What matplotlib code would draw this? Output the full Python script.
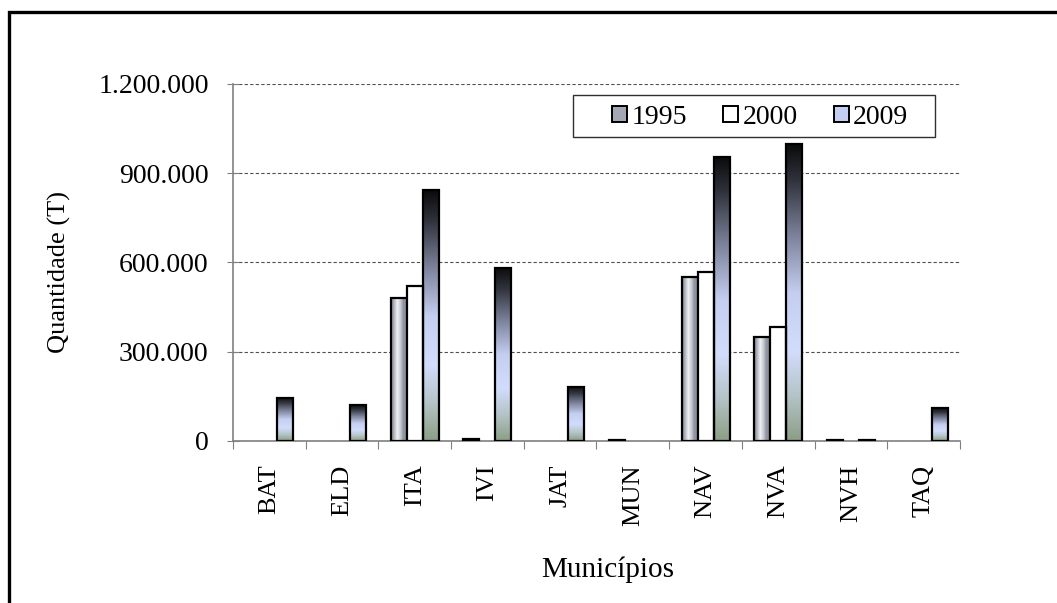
import numpy as np
import matplotlib.pyplot as plt
from matplotlib.colors import LinearSegmentedColormap
from matplotlib.patches import Rectangle, Patch
from matplotlib.ticker import FuncFormatter

plt.rcParams['font.family'] = ['Liberation Serif', 'DejaVu Serif']

municipios = ['BAT', 'ELD', 'ITA', 'IVI', 'JAT', 'MUN', 'NAV', 'NVA', 'NVH', 'TAQ']
anos = ['1995', '2000', '2009']
q1995 = [0, 0, 479000, 8000, 0, 4000, 551000, 348000, 3000, 0]
q2000 = [0, 0, 520000, 0, 0, 0, 568000, 382000, 0, 0]
q2009 = [146000, 121000, 843000, 583000, 183000, 0, 954000, 998000, 3000, 110000]

# gradient fills: 1995 striped across the bar, 2009 dark top to pale blue/green bottom
cmap95 = LinearSegmentedColormap.from_list('g95', ['#7c808e', '#b4b8c4', '#f2f2f2', '#c4c8d0', '#8a8e9a', '#a4a8b4'])
cmap09 = LinearSegmentedColormap.from_list('g09', [(0, '#8c9f86'), (0.15, '#b4c4c8'), (0.3, '#d2dcfc'),
                                                   (0.5, '#c4cef0'), (0.7, '#7a8098'), (0.88, '#30333c'),
                                                   (1, '#0c0c0c')])

fig = plt.figure(figsize=(10.57, 6.03), dpi=100)
ax = fig.add_axes([0.2204, 0.2687, 0.6878, 0.592])

x = np.arange(len(municipios))
w = 0.22


def fill_bars(bars, cmap, horizontal):
    for b in bars:
        h = b.get_height()
        if h <= 0:
            continue
        x0 = b.get_x()
        if horizontal:
            grad = np.linspace(0, 1, 64).reshape(1, -1)
        else:
            grad = np.linspace(0, 1, 128).reshape(-1, 1)
        im = ax.imshow(grad, cmap=cmap, extent=(x0, x0 + b.get_width(), 0, h),
                       origin='lower', aspect='auto', zorder=2, interpolation='bilinear')
        im.set_clip_path(b)


b95 = ax.bar(x - w, q1995, w, facecolor='none', edgecolor='black', linewidth=1.6, zorder=3)
b00 = ax.bar(x, q2000, w, facecolor='white', edgecolor='black', linewidth=1.6, zorder=3)
b09 = ax.bar(x + w, q2009, w, facecolor='none', edgecolor='black', linewidth=1.6, zorder=3)
fill_bars(b95, cmap95, True)
fill_bars(b09, cmap09, False)
for b in list(b95) + list(b00) + list(b09):
    if b.get_height() <= 0:
        b.set_visible(False)

ax.set_xlim(-0.5, len(municipios) - 0.5)
ax.set_ylim(0, 1200000)
ax.set_yticks([0, 300000, 600000, 900000, 1200000])
ax.yaxis.set_major_formatter(FuncFormatter(lambda v, p: f'{int(v):,}'.replace(',', '.')))
ax.yaxis.grid(True, linestyle=(0, (3, 2)), color='#505050', linewidth=0.8)
ax.set_axisbelow(True)

ax.set_xticks(np.arange(len(municipios) + 1) - 0.5)
ax.set_xticklabels([])
ax.set_xticks(x, minor=True)
ax.set_xticklabels(municipios, minor=True, rotation=90, fontsize=19)
ax.tick_params(axis='x', which='minor', length=0, pad=17)
ax.tick_params(axis='x', which='major', direction='out', length=6, color='#808080')
ax.tick_params(axis='y', direction='inout', length=9, color='#808080', labelsize=20, pad=13)

for s in ['top', 'right']:
    ax.spines[s].set_visible(False)
for s in ['left', 'bottom']:
    ax.spines[s].set_color('#808080')
    ax.spines[s].set_linewidth(1.2)

fig.text(59 / 1057, 1 - 272 / 603, 'Quantidade (T)', rotation=90, fontsize=19, ha='center', va='center')
fig.text(608 / 1057, 1 - 570 / 603, 'Municípios', fontsize=21, ha='center', va='center')

# legend box drawn separately so the entries can sit in the middle of a wider frame
ax.add_patch(Rectangle((0.468, 0.852), 0.498, 0.117, transform=ax.transAxes, facecolor='white',
                       edgecolor='#303030', linewidth=1.0, zorder=4))
handles = [Patch(facecolor='#a4a8b4', edgecolor='black', linewidth=1.4),
           Patch(facecolor='white', edgecolor='black', linewidth=1.4),
           Patch(facecolor='#c4cef0', edgecolor='black', linewidth=1.4)]
leg = ax.legend(handles, anos, ncol=3, loc='center', bbox_to_anchor=(0.725, 0.906),
                fontsize=20, frameon=False, handlelength=0.55, handleheight=0.5,
                handletextpad=0.15, columnspacing=1.3, borderpad=0, borderaxespad=0)
leg.set_zorder(5)

# outer frame (left and top edges visible)
fig.patches.append(Rectangle((9 / 1057, -0.1), 1.2, 1 - 12 / 603 + 0.1, transform=fig.transFigure,
                             fill=False, edgecolor='black', linewidth=2.4))

fig.savefig('out.png', dpi=100)
